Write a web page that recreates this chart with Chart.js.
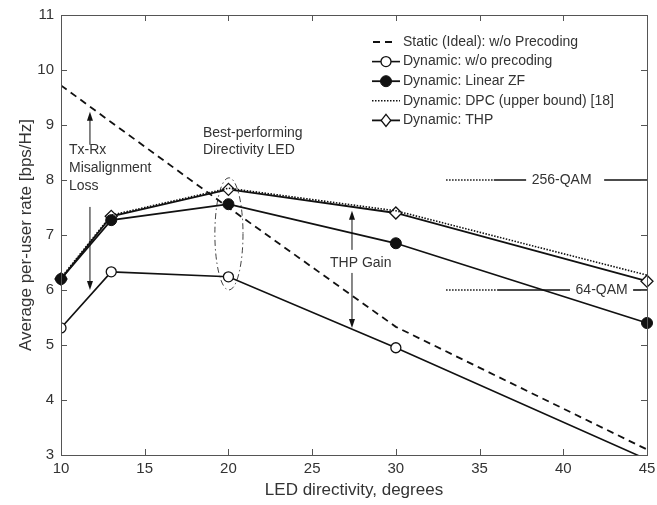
<!DOCTYPE html>
<html>
<head>
<meta charset="utf-8">
<script src="https://cdn.jsdelivr.net/npm/chart.js@4/dist/chart.umd.min.js"></script>
<style>
  html, body { margin: 0; padding: 0; background: #fff; }
  #wrap { width: 657px; height: 505px; }
</style>
</head>
<body>
<div id="wrap"><canvas id="js-rate-chart" width="657" height="505"></canvas></div>
<script>
// LED directivity (degrees)
var directivity = [10, 13, 20, 30, 45];

// per-user rate, bps/Hz
var staticNoPrecoding = [9.72, 9.05, 7.5, 5.33, 3.1];
var dynNoPrecoding = [5.31, 6.33, 6.24, 4.95, 2.92];
var dynLinearZF = [6.2, 7.27, 7.56, 6.85, 5.4];
var dynDPC = [6.22, 7.36, 7.85, 7.44, 6.27];
var dynTHP = [6.2, 7.34, 7.83, 7.4, 6.16];

var seriesLabels = [
  'Static (Ideal): w/o Precoding',
  'Dynamic: w/o precoding',
  'Dynamic: Linear ZF',
  'Dynamic: DPC (upper bound) [18]',
  'Dynamic: THP'
];

var xTicks = [10, 15, 20, 25, 30, 35, 40, 45];
var yTicks = [3, 4, 5, 6, 7, 8, 9, 10, 11];

// modulation reference levels
var qamLabels = ['256-QAM', '64-QAM'];
var qamRates = [8, 6];

var FONT = '"Liberation Sans", Arial, Helvetica, sans-serif';
var TEXT = '#333';

function toPoints(ys) {
  return directivity.map((x, i) => ({ x: x, y: ys[i] }));
}

function arrow(ctx, x1, y1, x2, y2) {
  var a = Math.atan2(y2 - y1, x2 - x1);
  ctx.beginPath();
  ctx.moveTo(x1, y1);
  ctx.lineTo(x2 - 6 * Math.cos(a), y2 - 6 * Math.sin(a));
  ctx.stroke();
  ctx.beginPath();
  ctx.moveTo(x2, y2);
  ctx.lineTo(x2 - 9 * Math.cos(a) + 3 * Math.sin(a), y2 - 9 * Math.sin(a) - 3 * Math.cos(a));
  ctx.lineTo(x2 - 9 * Math.cos(a) - 3 * Math.sin(a), y2 - 9 * Math.sin(a) + 3 * Math.cos(a));
  ctx.closePath();
  ctx.fill();
}

// box with inward ticks on all four sides (matlab style)
var boxPlugin = {
  id: 'box',
  afterDraw(chart) {
    var ctx = chart.ctx, a = chart.chartArea;
    var xs = chart.scales.x, ys = chart.scales.y;
    ctx.save();
    ctx.strokeStyle = '#555';
    ctx.lineWidth = 1;
    ctx.strokeRect(a.left + 0.5, a.top + 0.5, a.right - a.left, a.bottom - a.top);
    ctx.beginPath();
    xTicks.forEach(v => {
      var p = Math.round(xs.getPixelForValue(v)) + 0.5;
      ctx.moveTo(p, a.bottom); ctx.lineTo(p, a.bottom - 6);
      ctx.moveTo(p, a.top); ctx.lineTo(p, a.top + 6);
    });
    yTicks.forEach(v => {
      var p = Math.round(ys.getPixelForValue(v)) + 0.5;
      ctx.moveTo(a.left, p); ctx.lineTo(a.left + 6, p);
      ctx.moveTo(a.right, p); ctx.lineTo(a.right - 6, p);
    });
    ctx.stroke();
    ctx.restore();
  }
};

var notesPlugin = {
  id: 'notes',
  afterDatasetsDraw(chart) {
    var ctx = chart.ctx;
    var xs = chart.scales.x, ys = chart.scales.y;
    var X = v => xs.getPixelForValue(v), Y = v => ys.getPixelForValue(v);
    ctx.save();
    ctx.fillStyle = '#111';
    ctx.strokeStyle = '#111';
    ctx.lineWidth = 1;

    // misalignment arrows
    arrow(ctx, X(11.73), Y(8.64), X(11.73), Y(9.24));
    arrow(ctx, X(11.73), Y(7.51), X(11.73), Y(6.0));
    // THP gain arrows
    arrow(ctx, X(27.38), Y(6.73), X(27.38), Y(7.44));
    arrow(ctx, X(27.38), Y(6.31), X(27.38), Y(5.31));

    // dash-dot ellipse round 20 degrees
    ctx.save();
    ctx.lineWidth = 0.8;
    ctx.setLineDash([6, 3, 1.5, 3]);
    ctx.beginPath();
    var cx = X(20.03), cy = Y(7.02);
    ctx.ellipse(cx, cy, X(20.87) - cx, cy - Y(8.04), 0, 0, Math.PI * 2);
    ctx.stroke();
    ctx.restore();

    ctx.font = '14px ' + FONT;
    ctx.fillStyle = TEXT;
    ctx.textAlign = 'left';
    ctx.textBaseline = 'middle';
    ctx.fillText('Tx-Rx', X(10.48), Y(8.545));
    ctx.fillText('Misalignment', X(10.48), Y(8.218));
    ctx.fillText('Loss', X(10.48), Y(7.89));
    ctx.fillText('Best-performing', X(18.48), Y(8.855));
    ctx.fillText('Directivity LED', X(18.48), Y(8.545));
    ctx.fillText('THP Gain', X(26.07), Y(6.49));

    // QAM reference lines: dotted lead-in, solid, label, solid
    var segs = [
      [33.0, 35.85, 37.78, 39.9, 42.44],
      [33.0, 36.05, 40.4, 42.29, 44.17]
    ];
    qamRates.forEach((r, i) => {
      var s = segs[i], y = Y(r);
      ctx.strokeStyle = '#111';
      ctx.lineWidth = 1.6;
      ctx.setLineDash([1.5, 1.5]);
      ctx.beginPath(); ctx.moveTo(X(s[0]), y); ctx.lineTo(X(s[1]), y); ctx.stroke();
      ctx.setLineDash([]);
      ctx.beginPath(); ctx.moveTo(X(s[1]), y); ctx.lineTo(X(s[2]), y); ctx.stroke();
      ctx.beginPath(); ctx.moveTo(X(s[4]), y); ctx.lineTo(X(45), y); ctx.stroke();
      ctx.textAlign = 'center';
      ctx.fillText(qamLabels[i], X(s[3]), y);
    });
    ctx.restore();
  }
};

// legend drawn inside the axes, top right
var legendPlugin = {
  id: 'boxLegend',
  afterDraw(chart) {
    var ctx = chart.ctx;
    ctx.save();
    ctx.font = '14px ' + FONT;
    ctx.textBaseline = 'middle';
    chart.data.datasets.forEach((ds, i) => {
      var y = 42 + i * 19.6;
      ctx.strokeStyle = ds.borderColor;
      ctx.lineWidth = ds.borderWidth;
      ctx.setLineDash(ds.borderDash || []);
      ctx.beginPath();
      if (i === 0) { ctx.moveTo(373, y); ctx.lineTo(397, y); }
      else { ctx.moveTo(372, y); ctx.lineTo(400, y); }
      ctx.stroke();
      ctx.setLineDash([]);
      var r = Array.isArray(ds.pointRadius) ? ds.pointRadius[0] : ds.pointRadius;
      if (r > 0) {
        ctx.fillStyle = ds.pointBackgroundColor;
        ctx.lineWidth = ds.pointBorderWidth;
        ctx.beginPath();
        if (ds.pointStyle === 'rectRot') {
          ctx.moveTo(386, y - r); ctx.lineTo(386 + r * 0.8, y); ctx.lineTo(386, y + r); ctx.lineTo(386 - r * 0.8, y);
          ctx.closePath();
        } else {
          ctx.arc(386, y, r, 0, Math.PI * 2);
        }
        ctx.fill();
        ctx.stroke();
      }
      ctx.fillStyle = TEXT;
      ctx.textAlign = 'left';
      ctx.fillText(ds.label, 403, y);
    });
    ctx.restore();
  }
};

var rateChartData = {
  datasets: [{
    label: seriesLabels[0],
    data: toPoints(staticNoPrecoding),
    borderColor: '#111',
    borderWidth: 1.8,
    borderDash: [7, 5],
    pointRadius: 0
  },
  {
    label: seriesLabels[1],
    data: toPoints(dynNoPrecoding),
    borderColor: '#111',
    borderWidth: 1.6,
    pointRadius: [5, 5, 5, 5, 0],
    pointStyle: 'circle',
    pointBackgroundColor: '#fff',
    pointBorderColor: '#111',
    pointBorderWidth: 1.3
  },
  {
    label: seriesLabels[2],
    data: toPoints(dynLinearZF),
    borderColor: '#111',
    borderWidth: 1.8,
    clip: false,
    pointRadius: 5.5,
    pointStyle: 'circle',
    pointBackgroundColor: '#111',
    pointBorderColor: '#111',
    pointBorderWidth: 1
  },
  {
    label: seriesLabels[3],
    data: toPoints(dynDPC),
    borderColor: '#111',
    borderWidth: 1.6,
    borderDash: [1.5, 1.5],
    clip: false,
    pointRadius: 0
  },
  {
    label: seriesLabels[4],
    data: toPoints(dynTHP),
    borderColor: '#111',
    borderWidth: 1.8,
    clip: false,
    pointRadius: 6,
    pointStyle: 'rectRot',
    pointBackgroundColor: '#fff',
    pointBorderColor: '#111',
    pointBorderWidth: 1.3
  }]
};

var rateChartOptions = {
  responsive: false,
  animation: false,
  layout: { padding: { top: 15, right: 10, left: 0, bottom: 0 } },
  plugins: { legend: { display: false }, tooltip: { enabled: false } },
  scales: {
    x: {
      type: 'linear',
      min: 10, max: 45,
      afterBuildTicks: s => { s.ticks = xTicks.map(v => ({ value: v })); },
      afterFit: s => { s.height = 50; s.paddingLeft = 0; s.paddingRight = 0; },
      grid: { display: false, drawTicks: false },
      border: { display: false },
      ticks: { color: TEXT, font: { family: FONT, size: 15 }, padding: 5, maxRotation: 0 },
      title: { display: true, text: 'LED directivity, degrees', color: TEXT,
        font: { family: FONT, size: 17 }, padding: { top: 0, bottom: 4 } }
    },
    y: {
      min: 3, max: 11,
      afterBuildTicks: s => { s.ticks = yTicks.map(v => ({ value: v })); },
      afterFit: s => { s.width = 61; s.paddingTop = 0; s.paddingBottom = 0; },
      grid: { display: false, drawTicks: false },
      border: { display: false },
      ticks: { color: TEXT, font: { family: FONT, size: 15 }, padding: 7 },
      title: { display: true, text: 'Average per-user rate [bps/Hz]', color: TEXT,
        font: { family: FONT, size: 17 }, padding: { top: 16, bottom: 0 } }
    }
  }
};

var rateChartCanvas = document.getElementById('js-rate-chart').getContext('2d');
var rateChart = new Chart(rateChartCanvas, {
  type: 'line',
  data: rateChartData,
  options: rateChartOptions,
  plugins: [notesPlugin, boxPlugin, legendPlugin]
});
</script>
</body>
</html>
